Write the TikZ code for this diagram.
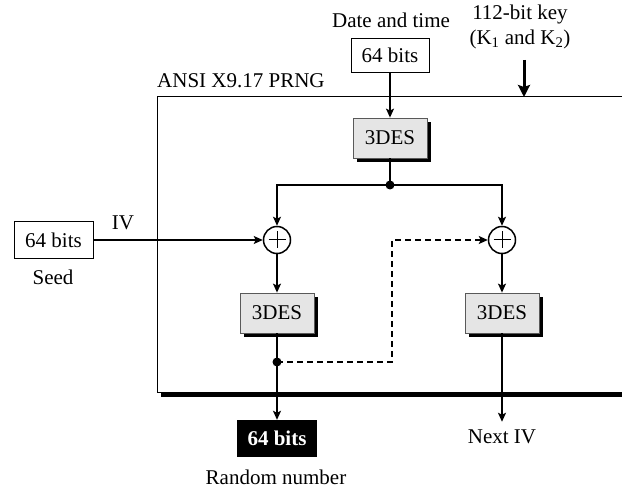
\documentclass[tikz,border=0pt]{standalone}
\usepackage{fontspec}
\setmainfont{Liberation Serif}
\usetikzlibrary{arrows.meta,shadows}
\begin{document}
\begin{tikzpicture}[x=1pt,y=1pt,
  every node/.style={font=\fontsize{21}{24.5}\selectfont},
  txt/.style={inner sep=0pt},
  plainbox/.style={draw, line width=1pt, minimum width=78pt, minimum height=34pt, inner sep=0pt},
  desbox/.style={draw=black!65, fill=black!10, line width=0.8pt, minimum width=74pt, minimum height=40pt, inner sep=0pt,
     drop shadow={shadow xshift=4pt, shadow yshift=-4pt, fill=black, opacity=1}},
  outbox/.style={fill=black, text=white, font=\fontsize{21}{24.5}\selectfont\bfseries, minimum width=80pt, minimum height=37pt, inner sep=0pt},
  xor/.style={circle, draw, line width=1.5pt, minimum size=27pt, inner sep=0pt,
     path picture={\draw[line width=1pt]
        ([yshift=-5pt]path picture bounding box.north) -- ([yshift=5pt]path picture bounding box.south)
        ([xshift=5pt]path picture bounding box.west) -- ([xshift=-5pt]path picture bounding box.east);}},
  dotnode/.style={circle, fill, minimum size=9pt, inner sep=0pt},
  conn/.style={line width=1.5pt},
  flow/.style={line width=1.5pt, -{Stealth[length=9pt,width=8pt,inset=2pt]}},
  keyflow/.style={line width=3pt, -{Stealth[length=12pt,width=12pt,inset=2pt]}},
  dashflow/.style={flow, dash pattern=on 6pt off 4pt}
]
\useasboundingbox (0,0) rectangle (622,-489);
% frame
\coordinate (ftr) at (622,-97);
\coordinate (ftl) at (157,-97);
\coordinate (fbl) at (157,-393);
\coordinate (fbr) at (622,-393);
\coordinate (sl) at (161,-395.5);
\coordinate (sr) at (622,-395.5);
\draw[line width=1pt] (ftr) -- (ftl) -- (fbl) -- (fbr);
\draw[line width=4pt] (sl) -- (sr);
\node[txt, anchor=base west] (prng) at (157,-88) {ANSI X9.17 PRNG};

% inputs
\node[txt, anchor=base] (dtl) at (391,-28) {Date and time};
\node[plainbox] (T) at (390,-55.5) {64 bits};
\node[txt, align=center] (K) at (520,-27) {112-bit key\\(K\textsubscript{1} and K\textsubscript{2})};
\coordinate (ka) at (524,-60);
\coordinate (kb) at (524,-97);
\draw[keyflow] (ka) -- (kb);

\node[plainbox, minimum width=79pt, minimum height=37pt] (S) at (53.5,-240) {64 bits};
\node[txt] (ivl) at (123,-223) {IV};
\node[txt] (seedl) at (53,-277) {Seed};

% blocks
\node[desbox] (D1) at (390,-138) {3DES};
\node[dotnode] (J1) at (390,-185) {};
\node[xor] (X1) at (277,-240) {};
\node[xor] (X2) at (502,-240) {};
\node[desbox] (D2) at (277,-313) {3DES};
\node[desbox] (D3) at (502,-313) {3DES};
\node[dotnode] (J2) at (277,-362) {};
\coordinate (bend) at (392,-362);
\node[outbox] (O) at (277,-438.5) {64 bits};
\node[txt] (rnd) at (276,-477) {Random number};
\node[inner sep=0pt, inner ysep=8pt] (N) at (502,-437) {Next IV};

% connectors
\draw[flow] (T.south) -- (D1.north);
\draw[conn] (D1.south) -- (J1.center);
\draw[flow] (J1.center) -| (X1.north);
\draw[flow] (J1.center) -| (X2.north);
\draw[flow] (S.east) -- (X1.west);
\draw[flow] (X1.south) -- (D2.north);
\draw[flow] (X2.south) -- (D3.north);
\draw[conn] (D2.south) -- (J2.center);
\draw[flow] (J2.center) -- (O.north);
\draw[dashflow] (J2.center) -- (bend) |- (X2.west);
\draw[flow] (D3.south) -- (N.north);
\end{tikzpicture}
\end{document}
